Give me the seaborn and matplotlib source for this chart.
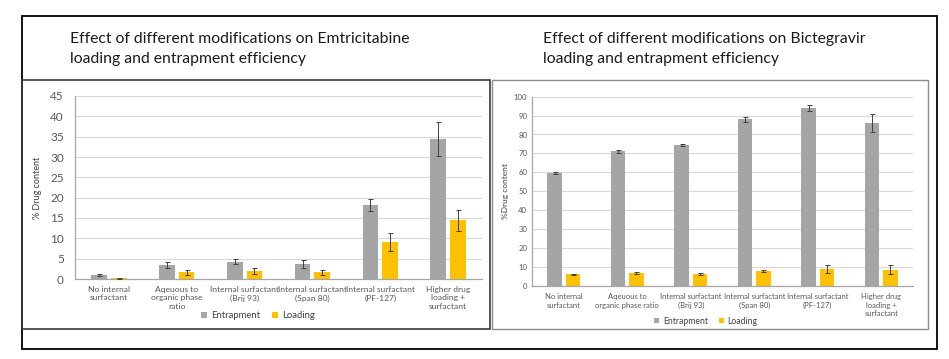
import numpy as np
import pandas as pd
import matplotlib
matplotlib.use("Agg")
import matplotlib.pyplot as plt
import seaborn as sns
from matplotlib.patches import Rectangle, Patch

# ---------------- data ----------------
categories_left = ["No internal\nsurfactant", "Aqeuous to\norganic phase\nratio",
                   "Internal surfactant\n(Brij 93)", "Internal surfactant\n(Span 80)",
                   "Internal surfactant\n(PF-127)", "Higher drug\nloading +\nsurfactant"]
categories_right = ["No internal\nsurfactant", "Aqeuous to\norganic phase ratio",
                    "Internal surfactant\n(Brij 93)", "Internal surfactant\n(Span 80)",
                    "Internal surfactant\n(PF-127)", "Higher drug\nloading +\nsurfactant"]
series = ["Entrapment", "Loading"]

emt_entrapment = [1.0, 3.5, 4.3, 3.6, 18.2, 34.4]
emt_entrapment_err = [0.3, 0.8, 0.5, 1.0, 1.4, 4.1]
emt_loading = [0.2, 1.7, 2.0, 1.7, 9.0, 14.4]
emt_loading_err = [0.1, 0.6, 0.7, 0.6, 2.2, 2.5]

bic_entrapment = [59.7, 71.1, 74.3, 88.0, 94.0, 85.9]
bic_entrapment_err = [0.6, 0.9, 0.5, 1.5, 1.7, 4.7]
bic_loading = [6.0, 6.9, 6.4, 7.9, 8.9, 8.4]
bic_loading_err = [0.4, 0.5, 0.5, 0.6, 2.3, 2.4]

title_left = ["Effect of different modifications on Emtricitabine",
              "loading and entrapment efficiency"]
title_right = ["Effect of different modifications on Bictegravir",
               "loading and entrapment efficiency"]
ylabel_left = "% Drug content"
ylabel_right = "%Drug content"
yticks_left = [0, 5, 10, 15, 20, 25, 30, 35, 40, 45]
yticks_right = [0, 10, 20, 30, 40, 50, 60, 70, 80, 90, 100]

# ---------------- style ----------------
GRAY = "#A5A5A5"
YELLOW = "#FFC000"
TXT = "#595959"

sns.set_theme(style="white")
plt.rcParams["font.family"] = ["Lato", "DejaVu Sans"]

W, H = 949, 359
fig = plt.figure(figsize=(W / 100, H / 100), dpi=100)
fig.patch.set_facecolor("white")


def px_axes(x0, y0, x1, y1):
    return fig.add_axes([x0 / W, 1 - y1 / H, (x1 - x0) / W, (y1 - y0) / H])


def rect(x0, y0, x1, y1, color, lw):
    fig.add_artist(Rectangle((x0 / W, 1 - y1 / H), (x1 - x0) / W, (y1 - y0) / H,
                             transform=fig.transFigure, fill=False, ec=color, lw=lw))


def panel(ax, cats, ent, ent_err, load, load_err, yticks, ylabel,
          xfs, yfs, ylfs, ypad, xpad, ylab_x):
    df = pd.DataFrame({
        "Category": list(cats) * 2,
        "Series": [series[0]] * len(cats) + [series[1]] * len(cats),
        "Value": list(ent) + list(load),
    })
    sns.barplot(data=df, x="Category", y="Value", hue="Series", order=cats,
                hue_order=series, palette=[GRAY, YELLOW], saturation=1,
                width=0.58, gap=0.21, errorbar=None, ax=ax, legend=False,
                linewidth=0)
    for cont, errs in zip(ax.containers, [ent_err, load_err]):
        xs = [p.get_x() + p.get_width() / 2 for p in cont]
        ys = [p.get_height() for p in cont]
        ax.errorbar(xs, ys, yerr=errs, fmt="none", ecolor="#404040",
                    elinewidth=0.7, capsize=1.8, capthick=0.7, zorder=5)
    ax.set_ylim(yticks[0], yticks[-1])
    ax.set_yticks(yticks)
    ax.set_yticklabels([str(t) for t in yticks], fontsize=yfs, color=TXT)
    ax.set_xticks(range(len(cats)))
    ax.set_xticklabels(cats, fontsize=xfs, color=TXT, linespacing=1.25)
    ax.set_xlim(-0.5, len(cats) - 0.5)
    ax.set_xlabel("")
    ax.set_ylabel(ylabel, fontsize=ylfs, color="#404040")
    ax.yaxis.set_label_coords(ylab_x, 0.5)
    ax.tick_params(axis="y", length=0, pad=ypad)
    ax.tick_params(axis="x", length=0, pad=xpad)
    ax.yaxis.grid(True, color="#D9D9D9", lw=0.8)
    ax.set_axisbelow(True)
    for s in ["top", "right"]:
        ax.spines[s].set_visible(False)
    for s in ["left", "bottom"]:
        ax.spines[s].set_color("#A6A6A6")
        ax.spines[s].set_linewidth(0.9)
    ax.set_facecolor("white")


axL = px_axes(75, 96, 482, 279)
panel(axL, categories_left, emt_entrapment, emt_entrapment_err, emt_loading,
      emt_loading_err, yticks_left, ylabel_left, xfs=6.1, yfs=8.5, ylfs=6.5,
      ypad=8.0, xpad=5, ylab_x=(42 - 75) / 407)

axR = px_axes(532, 96.7, 913, 285.7)
panel(axR, categories_right, bic_entrapment, bic_entrapment_err, bic_loading,
      bic_loading_err, yticks_right, ylabel_right, xfs=5.5, yfs=5.6, ylfs=6.0,
      ypad=3.4, xpad=5.5, ylab_x=(509 - 532) / 381)

# frames
rect(22, 16, 937, 349, "black", 1.3)
rect(22, 80, 490, 329, "#3a3a3a", 1.2)
rect(492, 80, 928, 329, "#8c8c8c", 1.0)

# titles
for i, line in enumerate(title_left):
    fig.text(70 / W, 1 - (43 + 20 * i) / H, line, fontsize=11.3, va="baseline",
             ha="left", color="#1a1a1a")
for i, line in enumerate(title_right):
    fig.text(543 / W, 1 - (43 + 20 * i) / H, line, fontsize=11.3, va="baseline",
             ha="left", color="#1a1a1a")

# legends
handles = [Patch(facecolor=GRAY, edgecolor="none"), Patch(facecolor=YELLOW, edgecolor="none")]
fig.legend(handles, series, loc="center", bbox_to_anchor=(258 / W, 1 - 316 / H),
           ncol=2, frameon=False, fontsize=6.8, handlelength=0.6, handleheight=0.6,
           handletextpad=0.4, columnspacing=1.3, labelcolor="#404040")
fig.legend(handles, series, loc="center", bbox_to_anchor=(706 / W, 1 - 321 / H),
           ncol=2, frameon=False, fontsize=6.2, handlelength=0.6, handleheight=0.6,
           handletextpad=0.4, columnspacing=1.3, labelcolor="#404040")

fig.savefig("out.png", dpi=100)
